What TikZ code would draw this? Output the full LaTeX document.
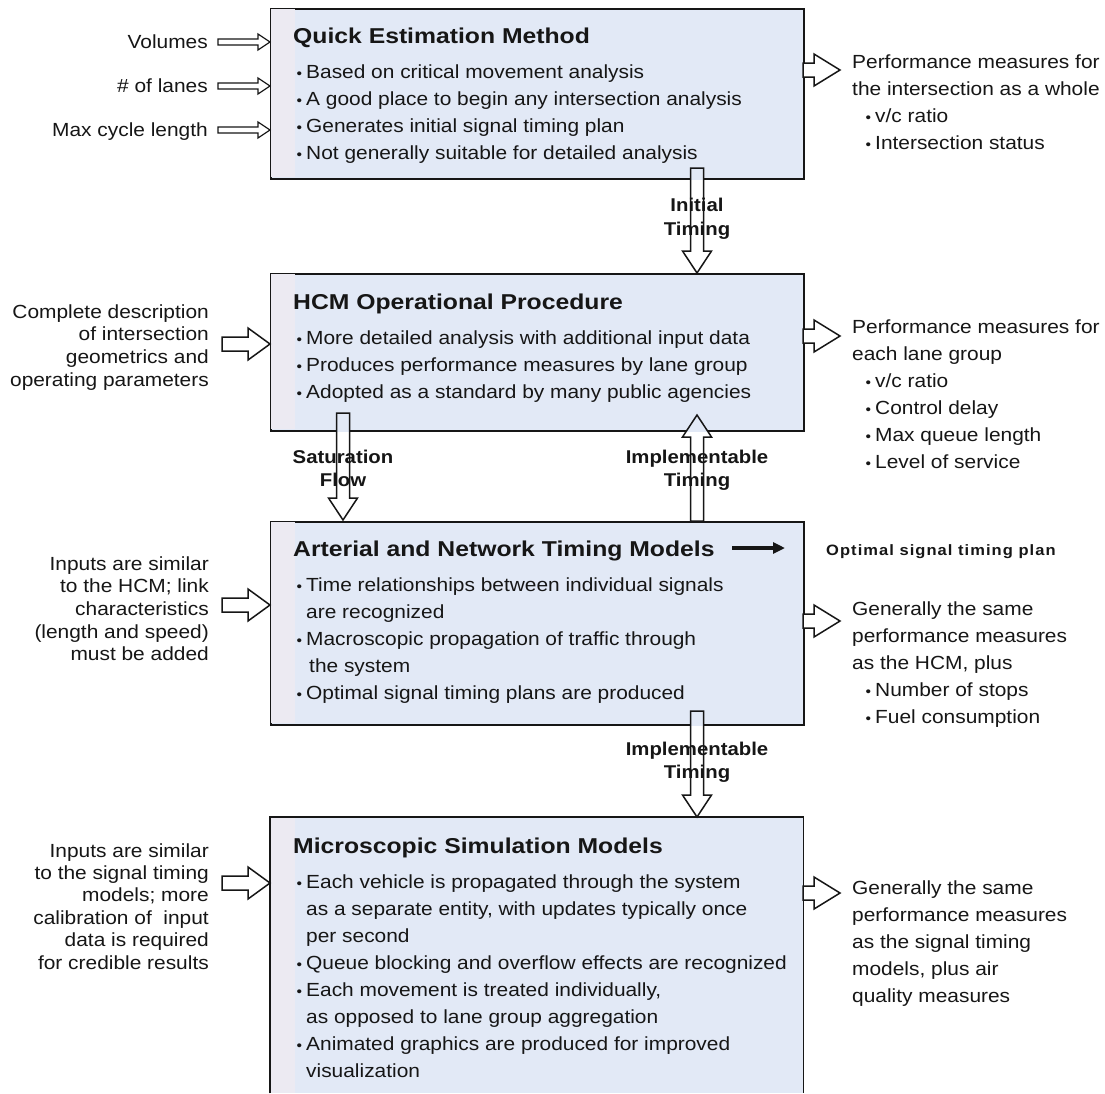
\documentclass[tikz,border=0pt]{standalone}
\usepackage{fontspec}
\usepackage{graphicx}
\setmainfont{Liberation Sans}[FakeStretch=1.1]
\newfontfamily\titlefont{Liberation Sans}[FakeStretch=1.15]
\newfontfamily\optfont{Liberation Sans}[FakeStretch=1.1,LetterSpace=7]
\usetikzlibrary{arrows.meta}
\definecolor{boxfill}{RGB}{226,233,246}
\definecolor{boxstrip}{RGB}{236,234,242}
\definecolor{ink}{RGB}{22,22,22}
\newcommand\bl{\llap{\scalebox{0.75}{•}\hspace{4pt}}}
\newcommand\blk[6]{\foreach \t [count=\i] in {#6} {\node[#1] (#5\i) at (#2,{#3+#4*(\i-1)}) {\t};}}
\newcommand\harr[4]{\draw[hollow,fill=white] (#1,#4-7) -- (#2,#4-7) -- (#2,#4-16) -- (#3,#4) -- (#2,#4+16) -- (#2,#4+7) -- (#1,#4+7) -- cycle;}
\newcommand\sarr[1]{\draw[hollow,fill=white,line width=1.2pt] (218,#1-3) -- (258,#1-3) -- (258,#1-8) -- (270,#1) -- (258,#1+8) -- (258,#1+3) -- (218,#1+3) -- cycle;}
% vertical hollow arrow: x, y start, y head base, y tip, box it overlaps
\newcommand\varr[5]{%
 \fill[white] (#1-6.5,#2) -- (#1-6.5,#3) -- (#1-14.5,#3) -- (#1,#4) -- (#1+14.5,#3) -- (#1+6.5,#3) -- (#1+6.5,#2) -- cycle;
 \begin{scope}
 \clip (#5.north west) rectangle (#5.south east);
 \fill[boxfill] (#1-6.5,#2) -- (#1-6.5,#3) -- (#1-14.5,#3) -- (#1,#4) -- (#1+14.5,#3) -- (#1+6.5,#3) -- (#1+6.5,#2) -- cycle;
 \end{scope}
 \draw[hollow] (#1-6.5,#2) -- (#1-6.5,#3) -- (#1-14.5,#3) -- (#1,#4) -- (#1+14.5,#3) -- (#1+6.5,#3) -- (#1+6.5,#2) -- cycle;}
\tikzset{
 box/.style={draw=ink, line width=1.8pt, fill=boxfill, inner sep=0pt, anchor=north west},
 ttl/.style={anchor=base west, inner sep=0pt, font=\titlefont\bfseries\fontsize{21.5}{26}\selectfont, text=ink},
 body/.style={anchor=base west, inner sep=0pt, font=\fontsize{19}{27}\selectfont, text=ink},
 leftt/.style={anchor=base east, inner sep=0pt, font=\fontsize{19}{23}\selectfont, text=ink},
 lbl/.style={anchor=base, inner sep=0pt, font=\bfseries\fontsize{18.5}{23}\selectfont, text=ink},
 hollow/.style={draw=ink, line width=1.5pt, line join=miter},
}
\begin{document}
\begin{tikzpicture}[x=1pt,y=-1pt]
\useasboundingbox (0,0) rectangle (1105,1093);
\fill[white] (0,0) rectangle (1105,1093);
% boxes
\node[box, minimum width=533pt, minimum height=170pt] (b1) at (270,8) {};
\node[box, minimum width=533pt, minimum height=157pt] (b2) at (270,273) {};
\node[box, minimum width=533pt, minimum height=203pt] (b3) at (270,521) {};
\node[fill=boxfill, inner sep=0pt, anchor=north west, minimum width=533pt, minimum height=276pt] (b4) at (270,817) {};
\draw[ink, line width=1.8pt] (b4.south west) -- (b4.north west) -- (b4.north east) -- (b4.south east);
\fill[boxstrip] (271,9) rectangle (295,177);
\fill[boxstrip] (271,274) rectangle (295,429);
\fill[boxstrip] (271,522) rectangle (295,723);
\fill[boxstrip] (271,818) rectangle (295,1093);
% titles
\node[ttl] (t1) at (293,43) {Quick Estimation Method};
\node[ttl] (t2) at (293,309) {HCM Operational Procedure};
\node[ttl] (t3) at (293,556) {Arterial and Network Timing Models};
\node[ttl] (t4) at (293,853) {Microscopic Simulation Models};
% box items
\blk{body}{306}{78}{27}{qa}{\bl Based on critical movement analysis, \bl A good place to begin any intersection analysis, \bl Generates initial signal timing plan, \bl Not generally suitable for detailed analysis}
\blk{body}{306}{344}{27}{qb}{\bl More detailed analysis with additional input data, \bl Produces performance measures by lane group, \bl Adopted as a standard by many public agencies}
\blk{body}{306}{591}{27}{qc}{\bl Time relationships between individual signals, are recognized, \bl Macroscopic propagation of traffic through, \hspace{3pt}the system, \bl Optimal signal timing plans are produced}
\blk{body}{306}{888}{27}{qd}{\bl Each vehicle is propagated through the system, {as a separate entity, with updates typically once}, per second, \bl Queue blocking and overflow effects are recognized, {\bl Each movement is treated individually,}, as opposed to lane group aggregation, \bl Animated graphics are produced for improved, visualization}
% left inputs
\node[leftt] (l1) at (208,48) {Volumes};
\node[leftt] (l2) at (208,92) {\# of lanes};
\node[leftt] (l3) at (208,136) {Max cycle length};
\blk{leftt}{209}{318}{22.7}{lb}{Complete description, of intersection, geometrics and, operating parameters}
\blk{leftt}{209}{570}{22.7}{lc}{Inputs are similar, {to the HCM; link}, characteristics, (length and speed), must be added}
\blk{leftt}{209}{857}{22.4}{ld}{Inputs are similar, to the signal timing, {models; more}, calibration of\ \ input, data is required, for credible results}
% right outputs
\blk{body}{852}{68}{27}{ra}{Performance measures for, the intersection as a whole, \hspace{23pt}\bl v/c ratio, \hspace{23pt}\bl Intersection status}
\blk{body}{852}{333}{27}{rb}{Performance measures for, each lane group, \hspace{23pt}\bl v/c ratio, \hspace{23pt}\bl Control delay, \hspace{23pt}\bl Max queue length, \hspace{23pt}\bl Level of service}
\blk{body}{852}{615}{27}{rc}{Generally the same, performance measures, {as the HCM, plus}, \hspace{23pt}\bl Number of stops, \hspace{23pt}\bl Fuel consumption}
\blk{body}{852}{894}{27}{rd}{Generally the same, performance measures, as the signal timing, {models, plus air}, quality measures}
% input arrows
\sarr{42}
\sarr{86}
\sarr{130}
\harr{222}{248}{270}{344}
\harr{222}{248}{270}{605}
\harr{222}{248}{270}{883}
% output arrows
\harr{803}{814}{840}{70}
\harr{803}{814}{840}{336}
\harr{803}{814}{840}{621}
\harr{803}{814}{840}{893}
% vertical arrows
\varr{697}{168}{251}{273}{b1}
\varr{343}{413}{498}{520}{b2}
\varr{697}{521}{437}{415}{b2}
\varr{697}{711}{795}{817}{b3}
% labels
\node[lbl] (i1) at (697,211) {Initial};
\node[lbl] (i2) at (697,235) {Timing};
\node[lbl] (s1) at (343,463) {Saturation};
\node[lbl] (s2) at (343,486) {Flow};
\node[lbl] (m1) at (697,463) {Implementable};
\node[lbl] (m2) at (697,486) {Timing};
\node[lbl] (n1) at (697,755) {Implementable};
\node[lbl] (n2) at (697,778) {Timing};
% optimal plan
\coordinate (oa) at (732,548);
\coordinate (ob) at (785,548);
\draw[ink, line width=3.5pt, -{Triangle[length=12pt,width=11pt]}] (oa) -- (ob);
\node[anchor=base west, inner sep=0pt, font=\optfont\bfseries\fontsize{15}{18}\selectfont, text=ink] (op) at (826,555) {Optimal signal timing plan};
\end{tikzpicture}
\end{document}
